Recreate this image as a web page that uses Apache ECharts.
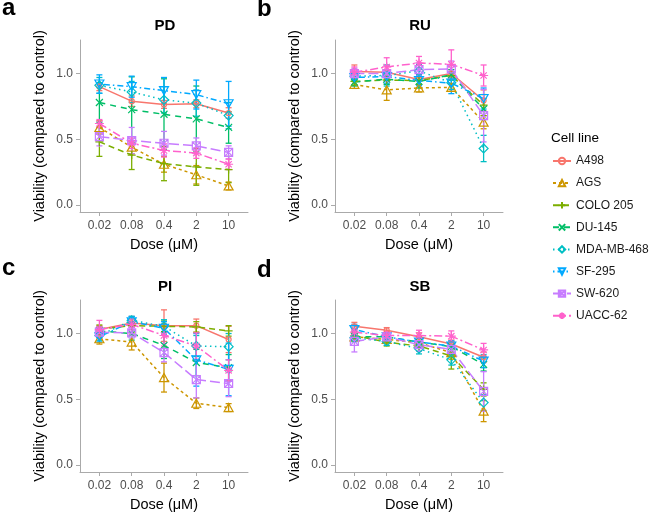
<!DOCTYPE html>
<html>
<head>
<meta charset="utf-8">
<script src="https://cdn.jsdelivr.net/npm/echarts@6/dist/echarts.min.js"></script>
<style>html,body{margin:0;padding:0;background:#fff}#c{width:651px;height:513px}</style>
</head>
<body>
<div id="c"></div>
<script>
// ---------- data ----------
const doses = ['0.02', '0.08', '0.4', '2', '10'];
const cellLines = ['A498', 'AGS', 'COLO 205', 'DU-145', 'MDA-MB-468', 'SF-295', 'SW-620', 'UACC-62'];
const yTicks = [0, 0.5, 1.0];

// PD
const pdMean = [
  [0.90, 0.79, 0.765, 0.77, 0.70],
  [0.59, 0.44, 0.31, 0.23, 0.145],
  [0.48, 0.38, 0.315, 0.29, 0.27],
  [0.78, 0.725, 0.69, 0.655, 0.59],
  [0.91, 0.86, 0.80, 0.775, 0.68],
  [0.92, 0.90, 0.87, 0.84, 0.77],
  [0.52, 0.49, 0.47, 0.45, 0.40],
  [0.62, 0.47, 0.415, 0.395, 0.31]
];
const pdErr = [
  [0.03, 0.04, 0.03, 0.03, 0.04],
  [0.05, 0.05, 0.06, 0.07, 0.03],
  [0.11, 0.11, 0.13, 0.14, 0.10],
  [0.15, 0.25, 0.27, 0.25, 0.12],
  [0.06, 0.08, 0.10, 0.10, 0.10],
  [0.07, 0.08, 0.10, 0.11, 0.17],
  [0.07, 0.10, 0.09, 0.06, 0.05],
  [0.03, 0.04, 0.05, 0.04, 0.04]
];
// RU
const ruMean = [
  [1.015, 1.01, 0.955, 1.0, 0.795],
  [0.917, 0.876, 0.89, 0.895, 0.63],
  [0.94, 0.95, 0.947, 0.985, 0.76],
  [0.935, 0.957, 0.94, 0.99, 0.73],
  [0.98, 0.985, 1.02, 0.93, 0.43],
  [0.97, 0.977, 0.947, 0.927, 0.81],
  [1.0, 1.0, 1.03, 1.035, 0.68],
  [1.01, 1.05, 1.08, 1.07, 0.985]
];
const ruErr = [
  [0.05, 0.05, 0.04, 0.03, 0.08],
  [0.03, 0.08, 0.03, 0.03, 0.05],
  [0.03, 0.03, 0.03, 0.03, 0.08],
  [0.03, 0.04, 0.05, 0.04, 0.08],
  [0.03, 0.08, 0.05, 0.05, 0.10],
  [0.03, 0.05, 0.04, 0.08, 0.08],
  [0.04, 0.06, 0.05, 0.06, 0.20],
  [0.04, 0.07, 0.05, 0.11, 0.08]
];
// PI
const piMean = [
  [1.03, 1.08, 1.06, 1.06, 0.955],
  [0.96, 0.935, 0.665, 0.47, 0.437],
  [1.035, 1.06, 1.055, 1.05, 1.02],
  [1.02, 1.0, 0.91, 0.78, 0.74],
  [0.985, 1.10, 1.055, 0.905, 0.90],
  [0.975, 1.09, 1.04, 0.80, 0.727],
  [1.01, 1.005, 0.855, 0.65, 0.62],
  [1.03, 1.07, 0.985, 0.905, 0.72]
];
const piErr = [
  [0.03, 0.05, 0.12, 0.05, 0.10],
  [0.04, 0.06, 0.11, 0.04, 0.03],
  [0.03, 0.05, 0.04, 0.04, 0.04],
  [0.03, 0.05, 0.10, 0.10, 0.10],
  [0.04, 0.03, 0.05, 0.08, 0.10],
  [0.04, 0.04, 0.05, 0.20, 0.20],
  [0.04, 0.04, 0.07, 0.14, 0.10],
  [0.07, 0.04, 0.08, 0.10, 0.08]
];
// SB
const sbMean = [
  [1.055, 1.025, 0.975, 0.92, 0.82],
  [0.975, 0.955, 0.93, 0.855, 0.41],
  [0.985, 0.935, 0.905, 0.83, 0.575],
  [0.975, 0.975, 0.935, 0.90, 0.765],
  [0.967, 0.94, 0.885, 0.80, 0.475],
  [1.03, 0.975, 0.935, 0.905, 0.79],
  [0.94, 0.975, 0.915, 0.88, 0.56],
  [1.01, 0.985, 0.985, 0.98, 0.875]
];
const sbErr = [
  [0.03, 0.02, 0.03, 0.03, 0.04],
  [0.03, 0.03, 0.04, 0.05, 0.08],
  [0.03, 0.03, 0.04, 0.10, 0.05],
  [0.03, 0.02, 0.04, 0.04, 0.05],
  [0.03, 0.03, 0.04, 0.04, 0.06],
  [0.04, 0.03, 0.04, 0.04, 0.05],
  [0.08, 0.03, 0.05, 0.05, 0.15],
  [0.03, 0.03, 0.04, 0.04, 0.05]
];

// ---------- styles ----------
const colors = ['#F8766D', '#CD9600', '#7CAE00', '#00BE67', '#00BFC4', '#00A9FF', '#C77CFF', '#FF61CC'];
const dashes = ['solid', [3, 3], [6, 4], [6, 5], [1.5, 3.5], [1.5, 3, 6, 3], [10, 4], [8, 3, 2, 3]];
const symbols = [
  'path://M10,5 A5,5 0 1,1 0,5 A5,5 0 1,1 10,5 Z',
  'path://M5,0 L10,8.66 L0,8.66 Z',
  'path://M0,5 L10,5 M5,0 L5,10',
  'path://M0,0 L10,10 M0,10 L10,0',
  'path://M5,0 L10,5 L5,10 L0,5 Z',
  'path://M0,0 L10,0 L5,8.66 Z',
  'path://M0,0 L10,0 L10,10 L0,10 Z M0,0 L10,10 M0,10 L10,0',
  'path://M0,5 L10,5 M5,0 L5,10 M1.5,1.5 L8.5,8.5 M1.5,8.5 L8.5,1.5'
];
const symSizes = [5, [9, 8], 8, 7, 9, [9, 8], 8, 9];
const FONT = '"Liberation Sans", Arial, sans-serif';

const panels = [
  {title: 'PD', letter: 'a', mean: pdMean, err: pdErr, left: 80, top: 40, lx: 2, ly: 8, tx: 165, ty: 26},
  {title: 'RU', letter: 'b', mean: ruMean, err: ruErr, left: 335, top: 40, lx: 257, ly: 9, tx: 420, ty: 26},
  {title: 'PI', letter: 'c', mean: piMean, err: piErr, left: 80, top: 300, lx: 2, ly: 268, tx: 165, ty: 287},
  {title: 'SB', letter: 'd', mean: sbMean, err: sbErr, left: 335, top: 300, lx: 257, ly: 270, tx: 420, ty: 287}
];

const grids = [], xAxes = [], yAxes = [], series = [], graphics = [];
const axisCol = '#aaaaaa';

function errRender(color) {
  return function (params, api) {
    const x = api.value(0), m = api.value(1), e = api.value(2);
    const t = api.coord([x, m + e]), b = api.coord([x, m - e]);
    const w = 3;
    const st = {stroke: color, lineWidth: 1.3};
    return {type: 'group', children: [
      {type: 'line', shape: {x1: t[0], y1: t[1], x2: b[0], y2: b[1]}, style: st},
      {type: 'line', shape: {x1: t[0] - w, y1: t[1], x2: t[0] + w, y2: t[1]}, style: st},
      {type: 'line', shape: {x1: b[0] - w, y1: b[1], x2: b[0] + w, y2: b[1]}, style: st}
    ]};
  };
}

panels.forEach((p, gi) => {
  grids.push({left: p.left, top: p.top, width: 168, height: 172, containLabel: false});
  xAxes.push({
    type: 'value', gridIndex: gi, min: -0.6, max: 4.6,
    name: 'Dose (μM)', nameLocation: 'middle', nameGap: 25,
    nameTextStyle: {fontFamily: FONT, fontSize: 14.5, color: '#000'},
    axisLine: {show: true, onZero: false, lineStyle: {color: axisCol, width: 1}},
    axisTick: {show: true, length: 4, customValues: [0, 1, 2, 3, 4], lineStyle: {color: axisCol}},
    axisLabel: {show: true, margin: 8, customValues: [0, 1, 2, 3, 4], fontFamily: FONT, fontSize: 12, color: '#4D4D4D',
      formatter: v => doses[Math.round(v)]},
    splitLine: {show: false}
  });
  yAxes.push({
    type: 'value', gridIndex: gi, min: -0.053, max: 1.255,
    name: 'Viability (compared to control)', nameLocation: 'middle', nameGap: 33, nameRotate: 90,
    nameTextStyle: {fontFamily: FONT, fontSize: 14.5, color: '#000'},
    axisLine: {show: true, onZero: false, lineStyle: {color: axisCol, width: 1}},
    axisTick: {show: true, length: 4, customValues: yTicks, lineStyle: {color: axisCol}},
    axisLabel: {show: true, margin: 7, customValues: yTicks, fontFamily: FONT, fontSize: 12, color: '#4D4D4D',
      formatter: v => v.toFixed(1)},
    splitLine: {show: false}
  });
  cellLines.forEach((name, i) => {
    series.push({
      type: 'custom', name: name + ' err', xAxisIndex: gi, yAxisIndex: gi,
      renderItem: errRender(colors[i]), encode: {x: 0, y: 1}, silent: true, z: 1,
      data: p.mean[i].map((v, k) => [k, v, p.err[i][k]])
    });
  });
  cellLines.forEach((name, i) => {
    series.push({
      type: 'line', name: name, xAxisIndex: gi, yAxisIndex: gi, z: 3,
      data: p.mean[i].map((v, k) => [k, v]),
      symbol: symbols[i], symbolSize: symSizes[i], showSymbol: true,
      lineStyle: {color: colors[i], width: 1.5, type: dashes[i]},
      itemStyle: {color: 'rgba(0,0,0,0)', borderColor: colors[i], borderWidth: 1.2},
      emphasis: {disabled: true}
    });
  });
  graphics.push({type: 'text', x: p.lx, y: p.ly,
    style: {text: p.letter, font: 'bold 24px ' + FONT, fill: '#000', verticalAlign: 'middle', align: 'left'}});
  graphics.push({type: 'text', x: p.tx, y: p.ty,
    style: {text: p.title, font: 'bold 15px ' + FONT, fill: '#000', verticalAlign: 'middle', align: 'center'}});
});

graphics.push({type: 'text', x: 551, y: 138,
  style: {text: 'Cell line', font: '13.5px ' + FONT, fill: '#000', verticalAlign: 'middle', align: 'left'}});

const chart = echarts.init(document.getElementById('c'), null, {renderer: 'canvas'});
chart.setOption({
  backgroundColor: '#fff',
  animation: false,
  grid: grids,
  xAxis: xAxes,
  yAxis: yAxes,
  legend: {
    data: cellLines, orient: 'vertical', left: 552, top: 155, padding: 0,
    itemWidth: 18, itemHeight: 8, itemGap: 10.1, selectedMode: false,
    textStyle: {fontFamily: FONT, fontSize: 12, color: '#1a1a1a'}
  },
  graphic: graphics,
  series: series
});
</script>
</body>
</html>
